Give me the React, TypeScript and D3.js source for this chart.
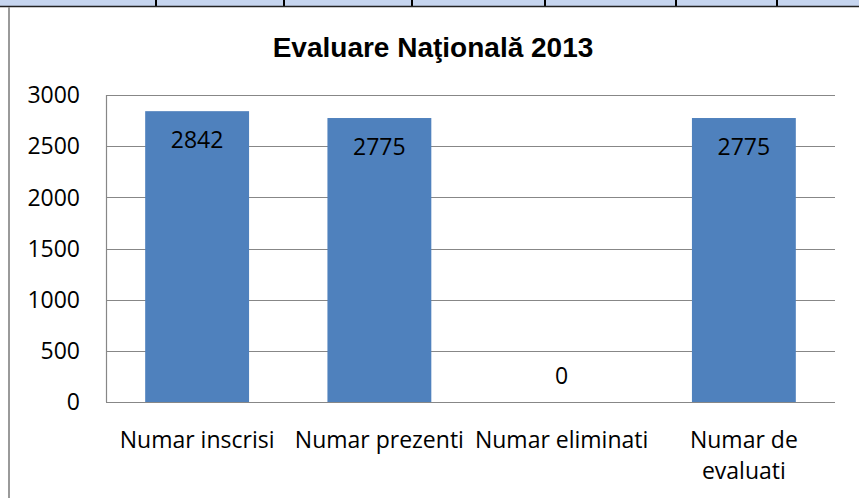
import React, { useEffect, useRef } from 'react';
import * as d3 from 'd3';

const title = 'Evaluare Naţională 2013';
const categories = ['Numar inscrisi', 'Numar prezenti', 'Numar eliminati', 'Numar de evaluati'];
const values = [2842, 2775, 0, 2775];
const yTicks = [0, 500, 1000, 1500, 2000, 2500, 3000];

const W = 859;
const H = 498;
const FONT = '"Open Sans", sans-serif';

const App = () => {
    const ref = useRef<SVGSVGElement>(null);

    useEffect(() => {
        const svg = d3.select(ref.current);
        svg.selectAll('*').remove();

        // bit of the table above the chart (cut off in the screenshot)
        svg.append('rect')
            .attr('x', 0).attr('y', 0)
            .attr('width', W).attr('height', 6)
            .attr('fill', '#c6d5ef');
        [156, 284, 412, 545, 676, 777].forEach(x => {
            svg.append('line')
                .attr('x1', x).attr('x2', x)
                .attr('y1', 0).attr('y2', 6)
                .attr('stroke', '#000').attr('stroke-width', 2);
        });
        svg.append('line')
            .attr('x1', 0).attr('x2', W)
            .attr('y1', 6.5).attr('y2', 6.5)
            .attr('stroke', '#222').attr('stroke-width', 1.5);

        // chart frame, only the left edge shows
        svg.append('line')
            .attr('x1', 9).attr('x2', 9)
            .attr('y1', 7).attr('y2', H)
            .attr('stroke', '#9a9a9a').attr('stroke-width', 2);

        svg.append('text')
            .attr('x', 433).attr('y', 57)
            .attr('text-anchor', 'middle')
            .style('font-family', '"Liberation Sans", Arial, sans-serif')
            .style('font-weight', 'bold')
            .style('font-size', '28px')
            .text(title);

        const x = d3.scaleBand<string>()
            .domain(categories)
            .range([106, 835])
            .paddingInner(0.43)
            .paddingOuter(0.215);
        const y = d3.scaleLinear()
            .domain([0, 3000])
            .range([402, 95]);

        // gridlines
        svg.append('g')
            .selectAll('line')
            .data(yTicks)
            .join('line')
            .attr('x1', 106).attr('x2', 835)
            .attr('y1', d => Math.round(y(d)) + 0.5)
            .attr('y2', d => Math.round(y(d)) + 0.5)
            .attr('stroke', '#878787')
            .attr('stroke-width', 1.2);

        svg.append('line')
            .attr('x1', 106.5).attr('x2', 106.5)
            .attr('y1', y(3000)).attr('y2', y(0))
            .attr('stroke', '#878787')
            .attr('stroke-width', 1.2);

        svg.append('g')
            .selectAll('text')
            .data(yTicks)
            .join('text')
            .attr('x', 80)
            .attr('y', d => y(d))
            .attr('dy', '0.36em')
            .attr('text-anchor', 'end')
            .style('font-family', FONT)
            .style('font-size', '23px')
            .text(d => d);

        const data = categories.map((c, i) => ({ c, v: values[i] }));

        svg.append('g')
            .selectAll('rect')
            .data(data)
            .join('rect')
            .attr('x', d => x(d.c)!)
            .attr('y', d => y(d.v))
            .attr('width', x.bandwidth())
            .attr('height', d => y(0) - y(d.v))
            .attr('fill', '#4f81bd');

        svg.append('g')
            .selectAll('text')
            .data(data)
            .join('text')
            .attr('x', d => x(d.c)! + x.bandwidth() / 2)
            .attr('y', d => (y(0) - y(d.v) > 50 ? y(d.v) + 37 : y(d.v) - 18))
            .attr('text-anchor', 'middle')
            .style('font-family', FONT)
            .style('font-size', '23px')
            .text(d => d.v);

        // category labels, wrapped to the band width like Excel does
        const step = x.step();
        const labels = svg.append('g')
            .selectAll('text')
            .data(categories)
            .join('text')
            .attr('text-anchor', 'middle')
            .style('font-family', FONT)
            .style('font-size', '23px');

        labels.each(function (d) {
            const t = d3.select(this);
            const cx = x(d)! + x.bandwidth() / 2;
            const words = d.split(' ');
            const lines: string[] = [];
            let cur = '';
            words.forEach(w => {
                const tryLine = cur ? cur + ' ' + w : w;
                t.text(tryLine);
                if (cur && (this as SVGTextElement).getComputedTextLength() > step) {
                    lines.push(cur);
                    cur = w;
                } else {
                    cur = tryLine;
                }
            });
            lines.push(cur);
            t.text(null);
            lines.forEach((l, i) => {
                t.append('tspan')
                    .attr('x', cx)
                    .attr('y', 448 + i * 31)
                    .text(l);
            });
        });
    }, []);

    return (
        <svg ref={ref} width={W} height={H}
             style={{ position: 'absolute', left: 0, top: 0, background: '#fff' }} />
    );
};

export default App;
